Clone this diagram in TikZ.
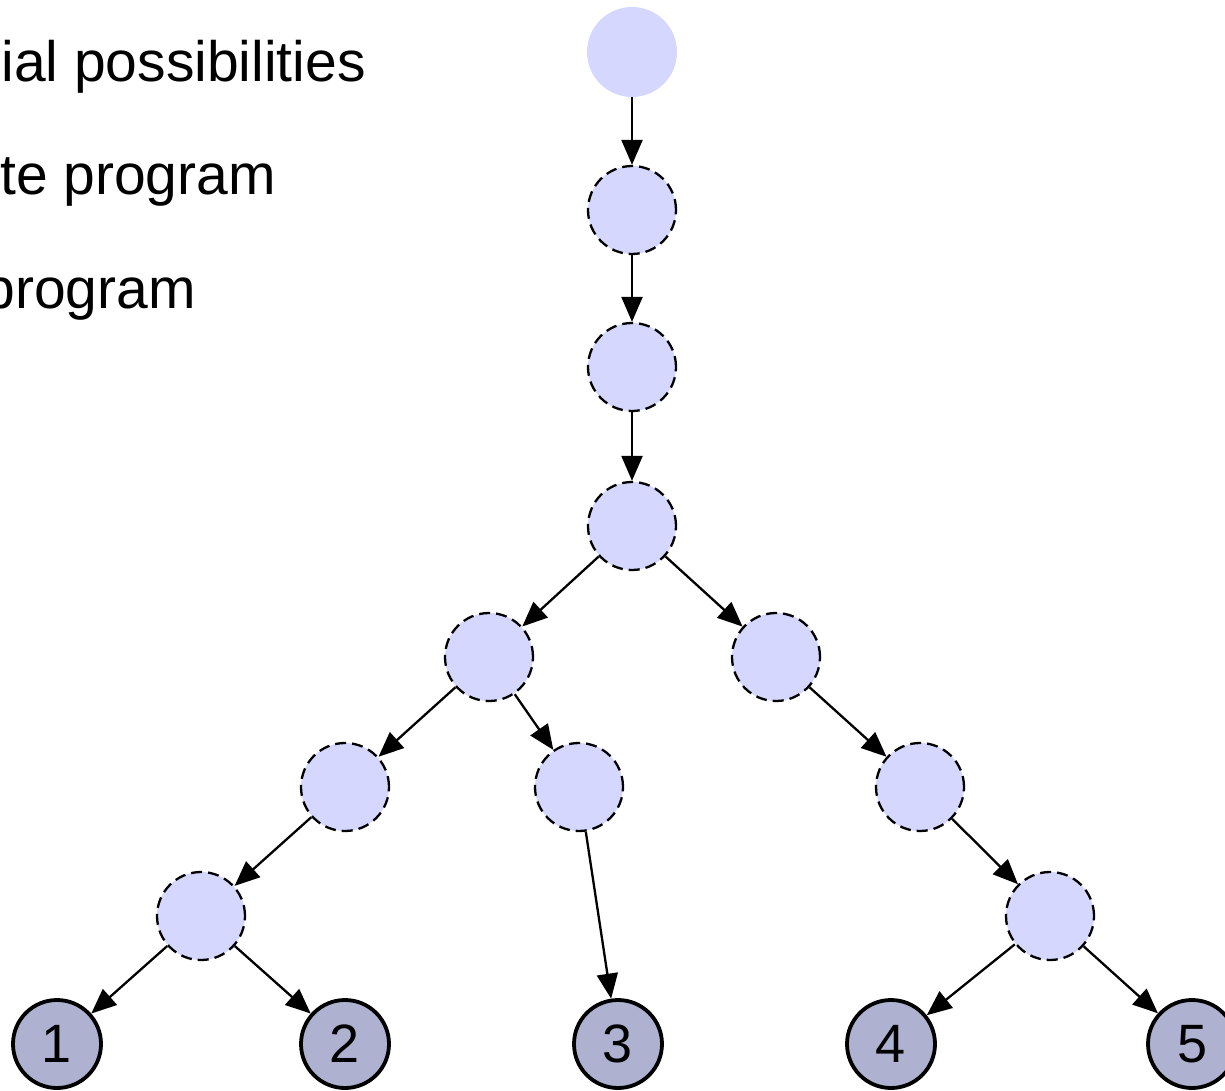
\documentclass[tikz,border=0pt]{standalone}
\usepackage{fontspec}
\setmainfont{Liberation Sans}
\usetikzlibrary{arrows.meta}
\definecolor{stepfill}{RGB}{214,215,255}
\definecolor{leaffill}{RGB}{174,178,208}
\begin{document}
\begin{tikzpicture}[x=1pt,y=-1pt,
  start/.style={circle,fill=stepfill,minimum size=90pt,inner sep=0pt},
  mid/.style={circle,fill=stepfill,draw=black,line width=2.3pt,dash pattern=on 11pt off 6pt,minimum size=88pt,inner sep=0pt},
  leaf/.style={circle,fill=leaffill,draw=black,line width=3.8pt,minimum size=88pt,inner sep=0pt,font=\fontsize{54}{64}\selectfont},
  edge/.style={line width=2.3pt,-{Triangle[length=25pt,width=21pt]}},
  caption/.style={anchor=base east,inner sep=0pt,font=\fontsize{57}{68}\selectfont}]
\useasboundingbox (0,0) rectangle (1225,1091);
\fill[white] (0,0) rectangle (1225,1091);

% legend text
\node[caption] (t1) at (366,82) {ial possibilities};
\node[caption] (t2) at (276,195) {te program};
\node[caption] (t3) at (196,308) {program};

% tree nodes
\node[start] (n0) at (632,52) {};
\node[mid] (n1) at (632,210) {};
\node[mid] (n2) at (632,367) {};
\node[mid] (n3) at (632,526) {};
\node[mid] (n4) at (489,657) {};
\node[mid] (n5) at (776,657) {};
\node[mid] (n6) at (345,787) {};
\node[mid] (n7) at (579,787) {};
\node[mid] (n8) at (920,787) {};
\node[mid] (n9) at (201,916) {};
\node[mid] (n10) at (1050,916) {};

% final outcomes
\node[leaf] (l1) at (57,1044) {1};
\node[leaf] (l2) at (345,1044) {2};
\node[leaf] (l3) at (618,1044) {3};
\node[leaf] (l4) at (891,1044) {4};
\node[leaf] (l5) at (1192,1044) {5};

% connectors
\draw[edge] (n0) -- (n1);
\draw[edge] (n1) -- (n2);
\draw[edge] (n2) -- (n3);
\draw[edge] (n3) -- (n4);
\draw[edge] (n3) -- (n5);
\draw[edge] (n4) -- (n6);
\draw[edge] (n4) -- (n7);
\draw[edge] (n5) -- (n8);
\draw[edge] (n6) -- (n9);
\draw[edge] (n7) -- (l3);
\draw[edge] (n8) -- (n10);
\draw[edge] (n9) -- (l1);
\draw[edge] (n9) -- (l2);
\draw[edge] (n10) -- (l4);
\draw[edge] (n10) -- (l5);
\end{tikzpicture}
\end{document}
